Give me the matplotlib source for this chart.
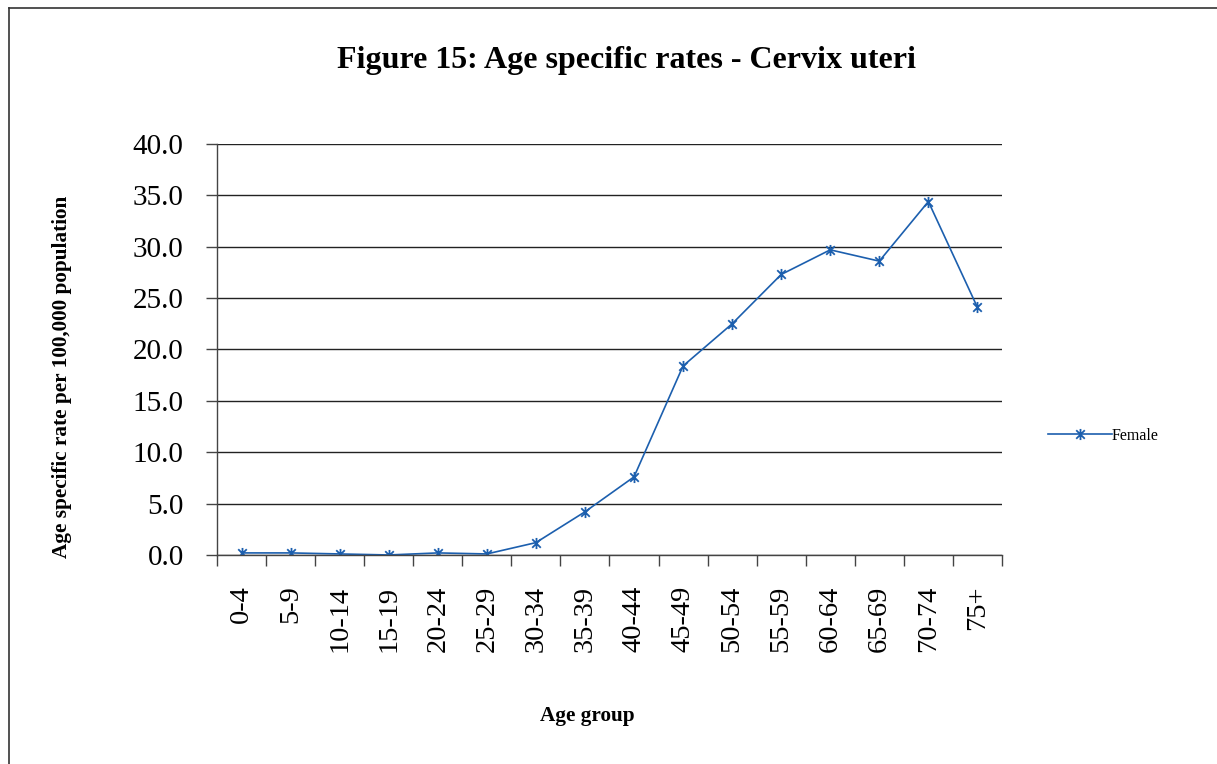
import numpy as np
import matplotlib.pyplot as plt
from matplotlib.path import Path
from matplotlib.lines import Line2D

plt.rcParams['font.family'] = ['Liberation Serif', 'DejaVu Serif']

# Age specific rates per 100,000 population - cervix uteri (female)
age_groups = ['0-4', '5-9', '10-14', '15-19', '20-24', '25-29', '30-34', '35-39',
              '40-44', '45-49', '50-54', '55-59', '60-64', '65-69', '70-74', '75+']
female = [0.2, 0.2, 0.1, 0.0, 0.2, 0.1, 1.2, 4.2,
          7.6, 18.4, 22.5, 27.3, 29.7, 28.6, 34.4, 24.1]
y_ticks = [0, 5, 10, 15, 20, 25, 30, 35, 40]

blue = '#1c5fae'

# excel style asterisk: an x with a vertical bar through it
star = Path([(-1, -1), (1, 1), (-1, 1), (1, -1), (0, -1.3), (0, 1.3)],
            [Path.MOVETO, Path.LINETO, Path.MOVETO, Path.LINETO, Path.MOVETO, Path.LINETO])

fig = plt.figure(figsize=(12.17, 7.64), dpi=100)
ax = fig.add_axes([0.1783, 0.2736, 0.645, 0.5379])

x = np.arange(len(age_groups))
ax.plot(x, female, color=blue, linewidth=1.2, marker=star, markersize=8,
        markeredgewidth=1.3, markeredgecolor=blue, label='Female')

ax.set_ylim(0, 40)
ax.set_xlim(-0.5, len(age_groups) - 0.5)
ax.set_yticks(y_ticks)
ax.set_yticklabels(['%.1f' % v for v in y_ticks], fontsize=21)
ax.yaxis.grid(True, color='#222222', linewidth=1.0)
ax.set_axisbelow(True)

# ticks on category boundaries, labels in the middle
ax.set_xticks(np.arange(-0.5, len(age_groups), 1.0))
ax.set_xticklabels([])
ax.set_xticks(x, minor=True)
ax.set_xticklabels(age_groups, minor=True, rotation=90, fontsize=20.5)
ax.tick_params(axis='x', which='major', length=8, width=1.0, color='#444444')
ax.tick_params(axis='x', which='minor', length=0, pad=22)
ax.tick_params(axis='y', length=8, width=1.0, color='#444444', pad=16)

for s in ['top', 'right']:
    ax.spines[s].set_visible(False)
for s in ['left', 'bottom']:
    ax.spines[s].set_color('#444444')
    ax.spines[s].set_linewidth(1.0)

leg = ax.legend(loc='center left', bbox_to_anchor=(1.04, 0.29), frameon=False,
                fontsize=11.5, handlelength=4.0, handletextpad=0.0)

fig.text(0.515, 0.921, 'Figure 15: Age specific rates - Cervix uteri',
         ha='center', va='center', fontsize=23, fontweight='bold')
fig.text(0.051, 0.507, 'Age specific rate per 100,000 population',
         ha='center', va='center', rotation=90, fontsize=15.3, fontweight='bold')
fig.text(0.483, 0.063, 'Age group', ha='center', va='center',
         fontsize=15.3, fontweight='bold')

# frame on the top and left edge of the page
fig.add_artist(Line2D([0.0073, 1.0], [0.9889, 0.9889], color='#333333', linewidth=1.2))
fig.add_artist(Line2D([0.0073, 0.0073], [0.0, 0.9889], color='#333333', linewidth=1.2))

fig.savefig('out.png', dpi=100)
